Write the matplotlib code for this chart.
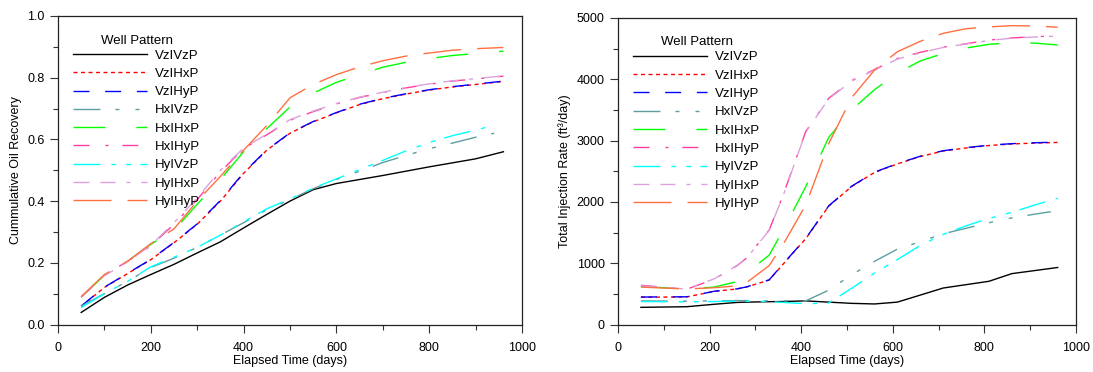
import matplotlib
matplotlib.use("Agg")
import matplotlib.pyplot as plt
import numpy as np
from matplotlib.ticker import MultipleLocator, FormatStrFormatter

plt.rcParams['font.family'] = ['Liberation Sans', 'DejaVu Sans']
plt.rcParams['lines.scale_dashes'] = False

# ---------------- data ----------------
labels = ["VzIVzP", "VzIHxP", "VzIHyP", "HxIVzP", "HxIHxP",
          "HxIHyP", "HyIVzP", "HyIHxP", "HyIHyP"]

days_rec = [50, 100, 150, 200, 250, 300, 350, 400, 450, 500, 550, 600,
            650, 700, 750, 800, 850, 900, 960]
days_rec_short = [50, 100, 150, 200, 250, 300, 350, 400, 450, 500, 550, 600,
                  650, 700, 750, 800, 850, 900, 940]

VzIVzP_rec = [0.039, 0.088, 0.128, 0.162, 0.195, 0.232, 0.268, 0.313, 0.357, 0.400,
              0.437, 0.457, 0.470, 0.483, 0.497, 0.511, 0.524, 0.537, 0.560]
VzIHxP_rec = [0.059, 0.120, 0.165, 0.210, 0.265, 0.325, 0.400, 0.490, 0.565, 0.620,
              0.657, 0.686, 0.713, 0.732, 0.747, 0.760, 0.770, 0.778, 0.788]
VzIHyP_rec = [0.060, 0.121, 0.166, 0.211, 0.266, 0.326, 0.402, 0.492, 0.566, 0.621,
              0.658, 0.687, 0.714, 0.733, 0.748, 0.761, 0.771, 0.779, 0.789]
HxIVzP_rec = [0.060, 0.100, 0.140, 0.185, 0.215, 0.250, 0.290, 0.330, 0.372, 0.405,
              0.440, 0.470, 0.497, 0.525, 0.548, 0.570, 0.588, 0.607, 0.620]
HxIHxP_rec = [0.088, 0.160, 0.205, 0.260, 0.305, 0.390, 0.470, 0.560, 0.635, 0.705,
              0.750, 0.785, 0.810, 0.834, 0.850, 0.862, 0.872, 0.878, 0.886]
HxIHyP_rec = [0.090, 0.160, 0.205, 0.255, 0.325, 0.405, 0.495, 0.570, 0.615, 0.662,
              0.690, 0.715, 0.736, 0.752, 0.767, 0.779, 0.789, 0.796, 0.805]
HyIVzP_rec = [0.055, 0.100, 0.140, 0.187, 0.218, 0.250, 0.290, 0.333, 0.375, 0.407,
              0.442, 0.472, 0.502, 0.532, 0.563, 0.590, 0.612, 0.630, 0.646]
HyIHxP_rec = [0.088, 0.158, 0.203, 0.257, 0.330, 0.410, 0.500, 0.572, 0.617, 0.664,
              0.692, 0.716, 0.737, 0.753, 0.768, 0.780, 0.790, 0.797, 0.806]
HyIHyP_rec = [0.090, 0.162, 0.205, 0.262, 0.310, 0.400, 0.480, 0.565, 0.645, 0.735,
              0.778, 0.810, 0.835, 0.855, 0.870, 0.880, 0.889, 0.894, 0.898]

days_inj = [50, 150, 210, 260, 280, 330, 360, 410, 460, 510, 560, 610,
            660, 710, 760, 810, 860, 910, 960]
days_inj_short = [50, 150, 210, 260, 280, 330, 360, 410, 460, 510, 560, 610,
                  660, 710, 760, 810, 860, 910, 945]

VzIVzP_inj = [280, 290, 330, 360, 365, 372, 375, 385, 365, 345, 335, 365,
              480, 595, 650, 705, 830, 880, 930]
VzIHxP_inj = [445, 450, 540, 580, 610, 725, 980, 1400, 1930, 2250, 2480, 2620,
              2740, 2830, 2880, 2920, 2945, 2960, 2970]
VzIHyP_inj = [448, 452, 542, 582, 612, 728, 985, 1405, 1935, 2255, 2485, 2625,
              2745, 2835, 2885, 2925, 2950, 2965, 2975]
HxIVzP_inj = [385, 380, 385, 390, 390, 385, 385, 385, 560, 810, 1030, 1230,
              1350, 1480, 1570, 1660, 1740, 1800, 1840]
HxIHxP_inj = [620, 580, 610, 700, 840, 1130, 1530, 2250, 3050, 3500, 3830, 4100,
              4300, 4420, 4510, 4570, 4600, 4590, 4560]
HxIHyP_inj = [640, 575, 740, 960, 1080, 1540, 2100, 3150, 3690, 3980, 4160, 4340,
              4440, 4525, 4580, 4640, 4675, 4695, 4710]
HyIVzP_inj = [375, 370, 375, 380, 380, 375, 360, 340, 350, 590, 840, 1060,
              1290, 1470, 1610, 1730, 1830, 1950, 2060]
HyIHxP_inj = [630, 578, 745, 965, 1075, 1535, 2090, 3140, 3680, 3970, 4150, 4330,
              4430, 4520, 4575, 4635, 4670, 4690, 4705]
HyIHyP_inj = [610, 580, 600, 630, 680, 960, 1300, 1950, 2950, 3700, 4150, 4450,
              4620, 4750, 4825, 4855, 4875, 4870, 4850]

# ---------------- styles ----------------
colors = ['#000000', '#ff0000', '#0000ff', '#5f9ea0', '#00ff00',
          '#ff3fa0', '#00ffff', '#dda0dd', '#ff7040']
styles = ['-',
          (0, (2.9, 2.5)),
          (0, (11.5, 11.3)),
          (0, (19.4, 10.8, 2.9, 11.5, 2.9, 10.8)),
          (0, (23.0, 22.3)),
          (0, (11.5, 11.5, 2.2, 10.0)),
          (0, (19.4, 7.9, 3.2, 7.6, 3.6, 6.5)),
          (0, (11.5, 7.9, 10.8, 7.9, 2.9, 7.9)),
          (0, (27.4, 11.5))]

rec_series = [(days_rec, VzIVzP_rec), (days_rec, VzIHxP_rec), (days_rec, VzIHyP_rec),
              (days_rec_short, HxIVzP_rec), (days_rec, HxIHxP_rec), (days_rec, HxIHyP_rec),
              (days_rec_short, HyIVzP_rec), (days_rec, HyIHxP_rec), (days_rec, HyIHyP_rec)]
inj_series = [(days_inj, VzIVzP_inj), (days_inj, VzIHxP_inj), (days_inj, VzIHyP_inj),
              (days_inj_short, HxIVzP_inj), (days_inj, HxIHxP_inj), (days_inj, HxIHyP_inj),
              (days_inj, HyIVzP_inj), (days_inj, HyIHxP_inj), (days_inj, HyIHyP_inj)]

fig = plt.figure(figsize=(10.93, 3.72), dpi=100)
ax1 = fig.add_axes([58 / 1093, 1 - 324.5 / 372, (522 - 58) / 1093, (324.5 - 16) / 372])
ax2 = fig.add_axes([618 / 1093, 1 - 324.5 / 372, (1076 - 618) / 1093, (324.5 - 18) / 372])

fs = 9


def style_axes(ax, ymax, ymajor, yminor, yfmt, ylabel):
    ax.set_xlim(0, 1000)
    ax.set_ylim(0, ymax)
    ax.xaxis.set_major_locator(MultipleLocator(200))
    ax.xaxis.set_minor_locator(MultipleLocator(100))
    ax.yaxis.set_major_locator(MultipleLocator(ymajor))
    ax.yaxis.set_minor_locator(MultipleLocator(yminor))
    if yfmt:
        ax.yaxis.set_major_formatter(FormatStrFormatter(yfmt))
    ax.tick_params(which='major', direction='out', length=5.5, width=0.8,
                   labelsize=fs, pad=4, color='#333333')
    ax.tick_params(axis='x', which='major', pad=7)
    ax.tick_params(which='minor', direction='out', length=3.5, width=0.8, color='#333333')
    ax.tick_params(top=False, right=False, which='both')
    for s in ax.spines.values():
        s.set_linewidth(0.9)
        s.set_color('#222222')
    ax.set_xlabel("Elapsed Time (days)", fontsize=fs, labelpad=1)
    ax.set_ylabel(ylabel, fontsize=fs, labelpad=4)


for ax, series in ((ax1, rec_series), (ax2, inj_series)):
    for (x, y), lab, c, ls in zip(series, labels, colors, styles):
        ax.plot(x, y, color=c, linestyle=ls, linewidth=1.0, label=lab)
    leg = ax.legend(loc='upper left', bbox_to_anchor=(0.033, 0.94), frameon=False,
                    title="Well Pattern", fontsize=9.5, title_fontsize=9.5,
                    handlelength=5.6, handletextpad=0.6, labelspacing=0.46,
                    borderpad=0, borderaxespad=0)
    leg._legend_box.sep = 2

style_axes(ax1, 1.0, 0.2, 0.1, '%.1f', "Cummulative Oil Recovery")
style_axes(ax2, 5000, 1000, 500, None, "Total Injection Rate (ft³/day)")

fig.savefig("out.png", dpi=100)
